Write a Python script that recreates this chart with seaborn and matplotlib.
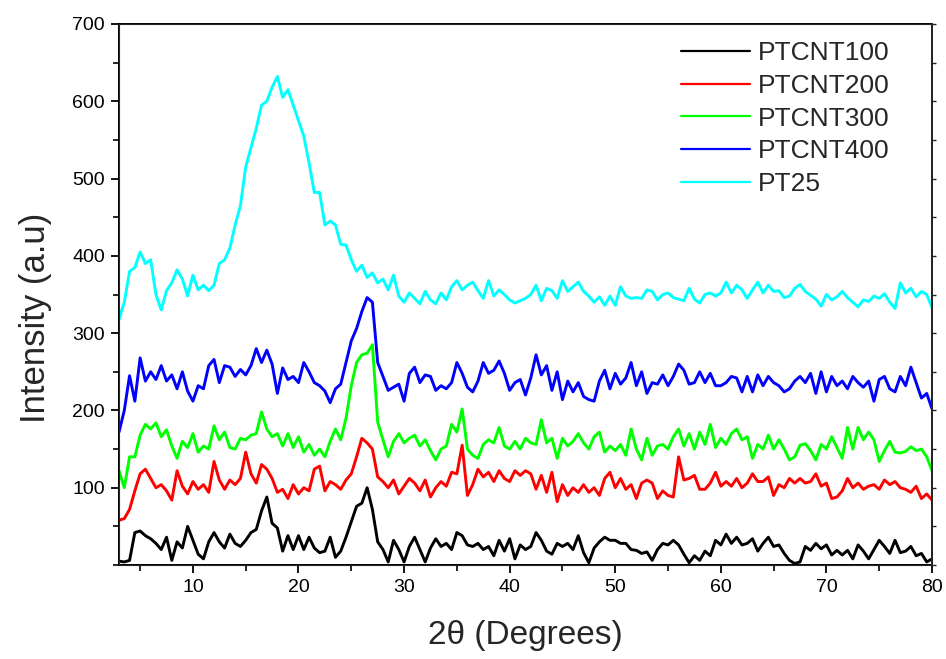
import numpy as np
import pandas as pd
import matplotlib
matplotlib.use("Agg")
import matplotlib.pyplot as plt
from matplotlib.ticker import MultipleLocator
import seaborn as sns

# 2-theta grid (degrees), 0.5 degree step from 3 to 80
two_theta = np.arange(3.0, 80.0 + 0.25, 0.5)

ptcnt100 = [
    5, 4, 6, 42, 44, 38, 34, 28, 20, 36, 6, 30, 22, 50, 32, 14, 8, 30, 42, 30,
    22, 40, 28, 24, 32, 42, 46, 70, 88, 54, 48, 18, 38, 20, 38, 20, 36, 22, 16, 18,
    36, 10, 18, 36, 56, 76, 80, 100, 72, 30, 20, 4, 32, 20, 4, 24, 36, 20, 4, 22,
    34, 24, 28, 20, 42, 38, 26, 24, 28, 20, 24, 12, 32, 18, 34, 8, 26, 20, 24, 42,
    32, 18, 14, 28, 24, 28, 20, 38, 16, 3, 22, 30, 36, 32, 32, 28, 28, 20, 19, 15,
    17, 6, 20, 28, 26, 32, 26, 14, 3, 12, 6, 18, 12, 32, 26, 40, 28, 36, 26, 28,
    34, 18, 28, 36, 24, 26, 15, 6, 2, 4, 24, 19, 28, 21, 26, 13, 19, 13, 19, 8,
    26, 18, 8, 20, 32, 24, 15, 32, 16, 18, 24, 12, 15, 4, 8,
]

ptcnt200 = [
    58, 60, 72, 96, 118, 124, 112, 100, 104, 96, 84, 122, 102, 92, 108, 98, 104, 94, 134, 110,
    98, 110, 104, 112, 146, 118, 106, 130, 124, 112, 94, 98, 86, 104, 92, 100, 96, 124, 128, 96,
    108, 104, 98, 110, 118, 140, 164, 158, 150, 114, 108, 100, 110, 92, 102, 112, 106, 96, 110, 88,
    100, 108, 102, 120, 118, 155, 90, 104, 124, 114, 120, 108, 122, 112, 108, 122, 116, 122, 118, 98,
    116, 94, 120, 82, 104, 90, 100, 94, 104, 94, 100, 90, 112, 120, 100, 112, 98, 104, 86, 106,
    110, 106, 86, 96, 90, 88, 140, 110, 112, 116, 98, 98, 106, 120, 102, 108, 102, 112, 100, 106,
    118, 108, 108, 114, 90, 104, 100, 112, 106, 112, 106, 108, 118, 102, 106, 86, 88, 96, 112, 100,
    106, 98, 102, 104, 98, 110, 104, 108, 100, 98, 94, 102, 86, 92, 84,
]

ptcnt300 = [
    122, 100, 140, 140, 168, 182, 176, 184, 166, 175, 154, 138, 160, 152, 170, 146, 154, 150, 180, 162,
    172, 152, 150, 164, 162, 168, 170, 198, 176, 166, 170, 154, 170, 152, 166, 146, 156, 142, 150, 140,
    160, 176, 162, 190, 232, 262, 272, 274, 285, 185, 162, 140, 160, 170, 158, 164, 168, 154, 162, 148,
    136, 150, 154, 182, 172, 202, 150, 142, 138, 156, 162, 158, 178, 154, 150, 160, 150, 164, 158, 156,
    188, 158, 164, 138, 164, 154, 160, 170, 158, 150, 166, 172, 146, 154, 148, 156, 142, 176, 150, 136,
    164, 142, 154, 156, 150, 166, 176, 154, 170, 150, 172, 156, 182, 152, 164, 156, 170, 176, 162, 166,
    138, 156, 150, 168, 150, 162, 150, 136, 140, 155, 157, 148, 136, 156, 150, 166, 152, 138, 178, 150,
    178, 162, 172, 162, 134, 148, 160, 146, 145, 147, 153, 148, 150, 140, 122,
]

ptcnt400 = [
    172, 200, 245, 212, 268, 238, 250, 240, 258, 238, 246, 228, 250, 225, 212, 232, 228, 258, 266, 236,
    258, 256, 244, 253, 246, 258, 280, 262, 278, 260, 222, 255, 240, 244, 236, 262, 250, 236, 232, 225,
    210, 228, 234, 262, 290, 306, 328, 346, 340, 262, 244, 226, 230, 234, 212, 248, 256, 236, 246, 244,
    226, 232, 228, 236, 262, 248, 230, 224, 238, 262, 248, 252, 264, 248, 226, 236, 240, 220, 242, 272,
    246, 258, 226, 250, 214, 238, 224, 236, 218, 214, 212, 238, 252, 228, 248, 234, 242, 262, 232, 250,
    222, 236, 234, 246, 232, 244, 260, 252, 234, 236, 250, 236, 248, 232, 232, 236, 244, 242, 224, 244,
    224, 246, 232, 244, 236, 232, 224, 228, 238, 244, 236, 248, 222, 250, 224, 244, 232, 238, 228, 244,
    236, 230, 238, 212, 240, 244, 228, 224, 244, 232, 256, 236, 216, 222, 202,
]

pt25 = [
    318, 340, 380, 385, 405, 390, 395, 350, 330, 355, 365, 382, 370, 348, 375, 356, 362, 355, 362, 390,
    395, 410, 440, 465, 515, 540, 565, 595, 600, 618, 632, 605, 615, 595, 575, 555, 520, 482, 482, 440,
    445, 440, 415, 414, 395, 380, 388, 372, 378, 365, 370, 356, 375, 348, 340, 352, 345, 338, 354, 343,
    338, 352, 343, 360, 368, 356, 362, 366, 355, 345, 368, 348, 356, 350, 343, 339, 342, 345, 350, 362,
    342, 358, 355, 345, 368, 354, 360, 366, 354, 348, 340, 347, 336, 348, 336, 360, 348, 345, 346, 345,
    356, 354, 343, 350, 352, 346, 344, 342, 358, 344, 339, 350, 352, 348, 352, 366, 352, 362, 356, 345,
    356, 366, 352, 362, 354, 355, 346, 348, 358, 363, 354, 349, 344, 335, 350, 343, 347, 354, 346, 340,
    334, 343, 341, 348, 345, 351, 340, 332, 365, 352, 358, 347, 354, 350, 333,
]

sample_names = ["PTCNT100", "PTCNT200", "PTCNT300", "PTCNT400", "PT25"]
sample_colors = ["#000000", "#ff0000", "#00ff00", "#0000ff", "#00ffff"]
sample_data = [ptcnt100, ptcnt200, ptcnt300, ptcnt400, pt25]

sns.set_style("ticks")
plt.rcParams["font.family"] = ["Liberation Sans", "DejaVu Sans"]

fig = plt.figure(figsize=(9.46, 6.59), dpi=100)
ax = fig.add_axes([0.1258, 0.1426, 0.8594, 0.8210])

for name, color, values in zip(sample_names, sample_colors, sample_data):
    frame = pd.DataFrame({"two_theta": two_theta, "intensity": values})
    sns.lineplot(data=frame, x="two_theta", y="intensity", color=color,
                 linewidth=2.1, label=name, ax=ax, estimator=None, sort=False)

ax.set_xlim(3, 80)
ax.set_ylim(0, 700)
ax.xaxis.set_major_locator(MultipleLocator(10))
ax.xaxis.set_minor_locator(MultipleLocator(5))
ax.set_yticks([100, 200, 300, 400, 500, 600, 700])
ax.yaxis.set_minor_locator(MultipleLocator(50))

for side in ["left", "right", "top", "bottom"]:
    ax.spines[side].set_visible(True)
    ax.spines[side].set_linewidth(1.4)
    ax.spines[side].set_color("black")

ax.tick_params(which="major", direction="out", length=6, width=1.3,
               labelsize=14, pad=4, colors="black")
ax.tick_params(which="minor", direction="out", length=4, width=1.2, colors="black")
ax.tick_params(top=False, right=False, which="both")

# small outward ticks along the right edge
ax_r = ax.twinx()
ax_r.set_ylim(0, 700)
ax_r.yaxis.set_major_locator(MultipleLocator(50))
ax_r.tick_params(axis="y", direction="out", length=3, width=1.0, labelright=False)
ax_r.spines["right"].set_linewidth(1.4)

ax.set_xlabel("2\u03b8 (Degrees)", fontsize=24)
ax.set_ylabel("Intensity (a.u)", fontsize=25)
ax.xaxis.set_label_coords(0.5, -0.102)
ax.yaxis.set_label_coords(-0.083, 0.457)

leg = ax.legend(loc="upper right", bbox_to_anchor=(0.948, 0.968), frameon=False,
                fontsize=19, handlelength=2.6, handletextpad=0.3,
                labelspacing=0.33, borderpad=0, borderaxespad=0)
for line in leg.get_lines():
    line.set_linewidth(1.6)

fig.savefig("out.png", dpi=100)
